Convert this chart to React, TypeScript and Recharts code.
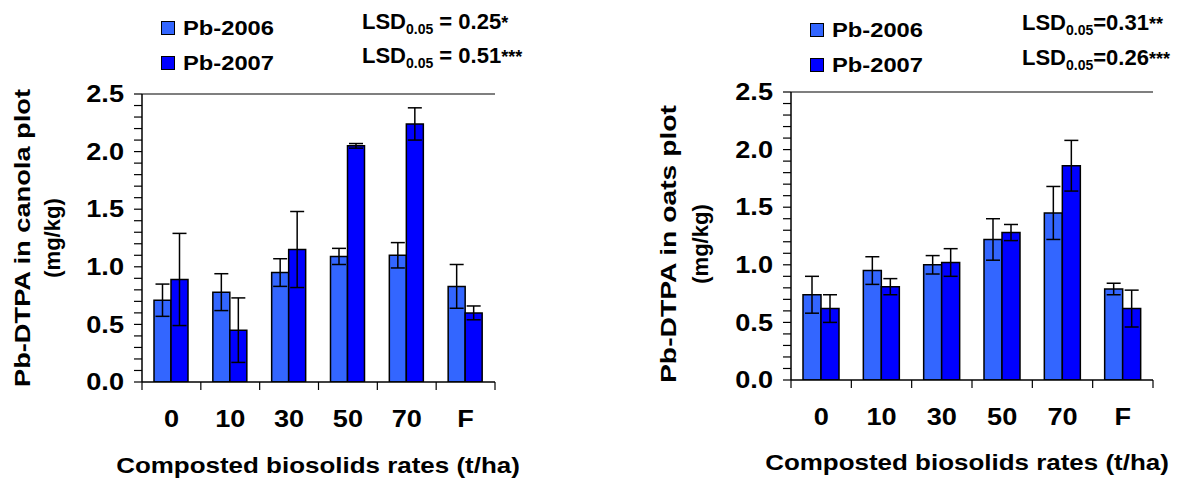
import React from 'react';
import { BarChart, Bar, XAxis, YAxis, ErrorBar, Legend, Customized, ReferenceLine } from 'recharts';

// ---------- data ----------
const categories = ['0', '10', '30', '50', '70', 'F'];

const canola2006 = [0.71, 0.78, 0.95, 1.09, 1.1, 0.83];
const canola2006Err = [0.14, 0.16, 0.12, 0.07, 0.11, 0.19];
const canola2007 = [0.89, 0.45, 1.15, 2.05, 2.24, 0.6];
const canola2007Err = [0.4, 0.28, 0.33, 0.02, 0.14, 0.06];

const oats2006 = [0.74, 0.95, 1.0, 1.22, 1.45, 0.79];
const oats2006Err = [0.16, 0.12, 0.08, 0.18, 0.23, 0.05];
const oats2007 = [0.62, 0.81, 1.02, 1.28, 1.86, 0.62];
const oats2007Err = [0.12, 0.07, 0.12, 0.07, 0.22, 0.16];

const yTicks = [0, 0.1, 0.2, 0.3, 0.4, 0.5, 0.6, 0.7, 0.8, 0.9, 1.0, 1.1, 1.2, 1.3, 1.4, 1.5, 1.6, 1.7, 1.8, 1.9, 2.0, 2.1, 2.2, 2.3, 2.4, 2.5];
const seriesNames = ['Pb-2006', 'Pb-2007'];

// ---------- styles ----------
const FONT = '"Liberation Sans", Arial, Helvetica, sans-serif';
const C06 = '#3366FF';
const C07 = '#0000FF';
const SX = 1.18; // horizontal widening of the reference's lettering
const TICK_LEN = 8;

type Row = { cat: string; v06: number; e06: number; v07: number; e07: number };
const buildRows = (a: number[], ae: number[], b: number[], be: number[]): Row[] =>
  categories.map((c, i) => ({ cat: c, v06: a[i], e06: ae[i], v07: b[i], e07: be[i] }));

const WText = ({ x, y, anchor, size, dy, sx, children }: any) => (
  <text
    transform={`translate(${x},${y}) scale(${sx ?? SX},1)`}
    textAnchor={anchor}
    dy={dy}
    fontFamily={FONT}
    fontWeight="bold"
    fontSize={size}
    fill="#000"
  >
    {children}
  </text>
);

const YTick = (props: any) => {
  const { x, y, payload } = props;
  const v = Number(payload.value);
  if (Math.round(v * 10) % 5 !== 0) return <g />;
  return (
    <WText x={x} y={y} dy="0.36em" anchor="end" size={23}>
      {v.toFixed(1)}
    </WText>
  );
};

// category label + tick marks on the category boundaries (band edges)
const XTick = (props: any) => {
  const { x, y, payload, width, visibleTicksCount, index } = props;
  const n = Number(visibleTicksCount) || categories.length;
  const hb = Number(width) > 0 ? Number(width) / n / 2 : 0;
  return (
    <g>
      {hb > 0 && <line x1={x - hb} x2={x - hb} y1={y} y2={y + TICK_LEN} stroke="#000" strokeWidth={1.2} />}
      {hb > 0 && index === n - 1 && (
        <line x1={x + hb} x2={x + hb} y1={y} y2={y + TICK_LEN} stroke="#000" strokeWidth={1.2} />
      )}
      <WText x={x} y={y + 45} anchor="middle" size={23}>
        {payload.value}
      </WText>
    </g>
  );
};

type PanelCfg = {
  rows: Row[];
  margin: { top: number; right: number; bottom: number; left: number };
  barSize: number;
  legendPos: { left: number; top: number };
  lsd: string[];
  lsdStars: string[];
  lsdX: number;
  lsdY: number[];
  lsdEq: string;
  yLabel: string;
  yLabelLen: number;
  yLab1X: number;
  yLab2X: number;
  yLabY: number;
  xTitleX: number;
  xTitleY: number;
};

const LegendContent = (props: any) => {
  const payload = props.payload || [];
  return (
    <div style={{ fontFamily: FONT, fontWeight: 'bold', fontSize: 21, color: '#000', lineHeight: '21px' }}>
      {payload.map((p: any, i: number) => (
        <div key={i} style={{ display: 'flex', alignItems: 'center', height: 35 }}>
          <span
            style={{
              display: 'inline-block',
              width: 12,
              height: 12,
              background: p.color,
              border: '1.5px solid #000',
              marginRight: 8,
            }}
          />
          <span style={{ display: 'inline-block', transform: 'scaleX(1.13)', transformOrigin: 'left center' }}>
            {p.value}
          </span>
        </div>
      ))}
    </div>
  );
};

const Panel = ({ cfg }: { cfg: PanelCfg }) => {
  const Annot = () => (
    <g fontFamily={FONT} fontWeight="bold" fill="#000">
      {cfg.lsd.map((val, i) => (
        <text key={i} x={cfg.lsdX} y={cfg.lsdY[i]} fontSize={22}>
          LSD
          <tspan fontSize={14} dy={5}>0.05</tspan>
          <tspan fontSize={22} dy={-5}>{cfg.lsdEq + val}</tspan>
          <tspan fontSize={18}>{cfg.lsdStars[i]}</tspan>
        </text>
      ))}
      <text
        transform={`translate(${cfg.yLab1X},${cfg.yLabY}) rotate(-90)`}
        textAnchor="middle"
        dominantBaseline="central"
        fontSize={22}
        textLength={cfg.yLabelLen}
        lengthAdjust="spacingAndGlyphs"
      >
        {cfg.yLabel}
      </text>
      <text
        transform={`translate(${cfg.yLab2X},${cfg.yLabY}) rotate(-90)`}
        textAnchor="middle"
        dominantBaseline="central"
        fontSize={22}
      >
        (mg/kg)
      </text>
      <WText x={cfg.xTitleX} y={cfg.xTitleY} anchor="middle" size={22}>
        Composted biosolids rates (t/ha)
      </WText>
    </g>
  );

  return (
    <BarChart
      width={595}
      height={485}
      data={cfg.rows}
      margin={cfg.margin}
      barSize={cfg.barSize}
      barGap={0}
      barCategoryGap={0}
    >
      <XAxis
        dataKey="cat"
        type="category"
        tick={XTick}
        tickLine={false}
        tickSize={0}
        tickMargin={0}
        interval={0}
        axisLine={{ stroke: '#000', strokeWidth: 1.5 }}
        height={60}
      />
      <YAxis
        yAxisId="left"
        domain={[0, 2.5]}
        ticks={yTicks}
        interval={0}
        tick={YTick}
        tickSize={8}
        tickMargin={10}
        tickLine={{ stroke: '#000', strokeWidth: 1.2 }}
        axisLine={{ stroke: '#000', strokeWidth: 1.5 }}
        width={80}
        allowDataOverflow
      />
      <YAxis
        yAxisId="right"
        orientation="right"
        domain={[0, 2.5]}
        tick={false}
        tickLine={false}
        axisLine={{ stroke: '#000', strokeWidth: 1.2 }}
        width={0}
      />
      <ReferenceLine yAxisId="left" y={2.5} stroke="#000" strokeWidth={1.2} ifOverflow="visible" />
      <Legend
        content={<LegendContent />}
        layout="vertical"
        align="center"
        verticalAlign="middle"
        wrapperStyle={{ position: 'absolute', left: cfg.legendPos.left, top: cfg.legendPos.top, width: 150, height: 70 }}
      />
      <Bar
        yAxisId="left"
        dataKey="v06"
        name={seriesNames[0]}
        fill={C06}
        stroke="#000"
        strokeWidth={1.5}
        isAnimationActive={false}
      >
        <ErrorBar dataKey="e06" width={7} stroke="#000" strokeWidth={1.5} direction="y" />
      </Bar>
      <Bar
        yAxisId="left"
        dataKey="v07"
        name={seriesNames[1]}
        fill={C07}
        stroke="#000"
        strokeWidth={1.5}
        isAnimationActive={false}
      >
        <ErrorBar dataKey="e07" width={7} stroke="#000" strokeWidth={1.5} direction="y" />
      </Bar>
      <Customized component={Annot} />
    </BarChart>
  );
};

const canolaCfg: PanelCfg = {
  rows: buildRows(canola2006, canola2006Err, canola2007, canola2007Err),
  margin: { top: 94, right: 100, bottom: 43, left: 62 },
  barSize: 17,
  legendPos: { left: 161, top: 10 },
  lsd: ['0.25', '0.51'],
  lsdStars: ['*', '***'],
  lsdEq: ' = ',
  lsdX: 362,
  lsdY: [29, 63],
  yLabel: 'Pb-DTPA in canola plot',
  yLabelLen: 298,
  yLab1X: 22,
  yLab2X: 52,
  yLabY: 238,
  xTitleX: 318,
  xTitleY: 473,
};

const oatsCfg: PanelCfg = {
  rows: buildRows(oats2006, oats2006Err, oats2007, oats2007Err),
  margin: { top: 92, right: 37, bottom: 45, left: 116 },
  barSize: 18,
  legendPos: { left: 215, top: 12 },
  lsd: ['0.31', '0.26'],
  lsdStars: ['**', '***'],
  lsdEq: '=',
  lsdX: 427,
  lsdY: [30, 65],
  yLabel: 'Pb-DTPA in oats plot',
  yLabelLen: 278,
  yLab1X: 73,
  yLab2X: 105,
  yLabY: 244,
  xTitleX: 372,
  xTitleY: 470,
};

export default function App() {
  return (
    <div style={{ position: 'absolute', left: 0, top: 0, width: 1190, height: 485, background: '#fff' }}>
      <div style={{ position: 'absolute', left: 0, top: 0 }}>
        <Panel cfg={canolaCfg} />
      </div>
      <div style={{ position: 'absolute', left: 595, top: 0 }}>
        <Panel cfg={oatsCfg} />
      </div>
    </div>
  );
}
